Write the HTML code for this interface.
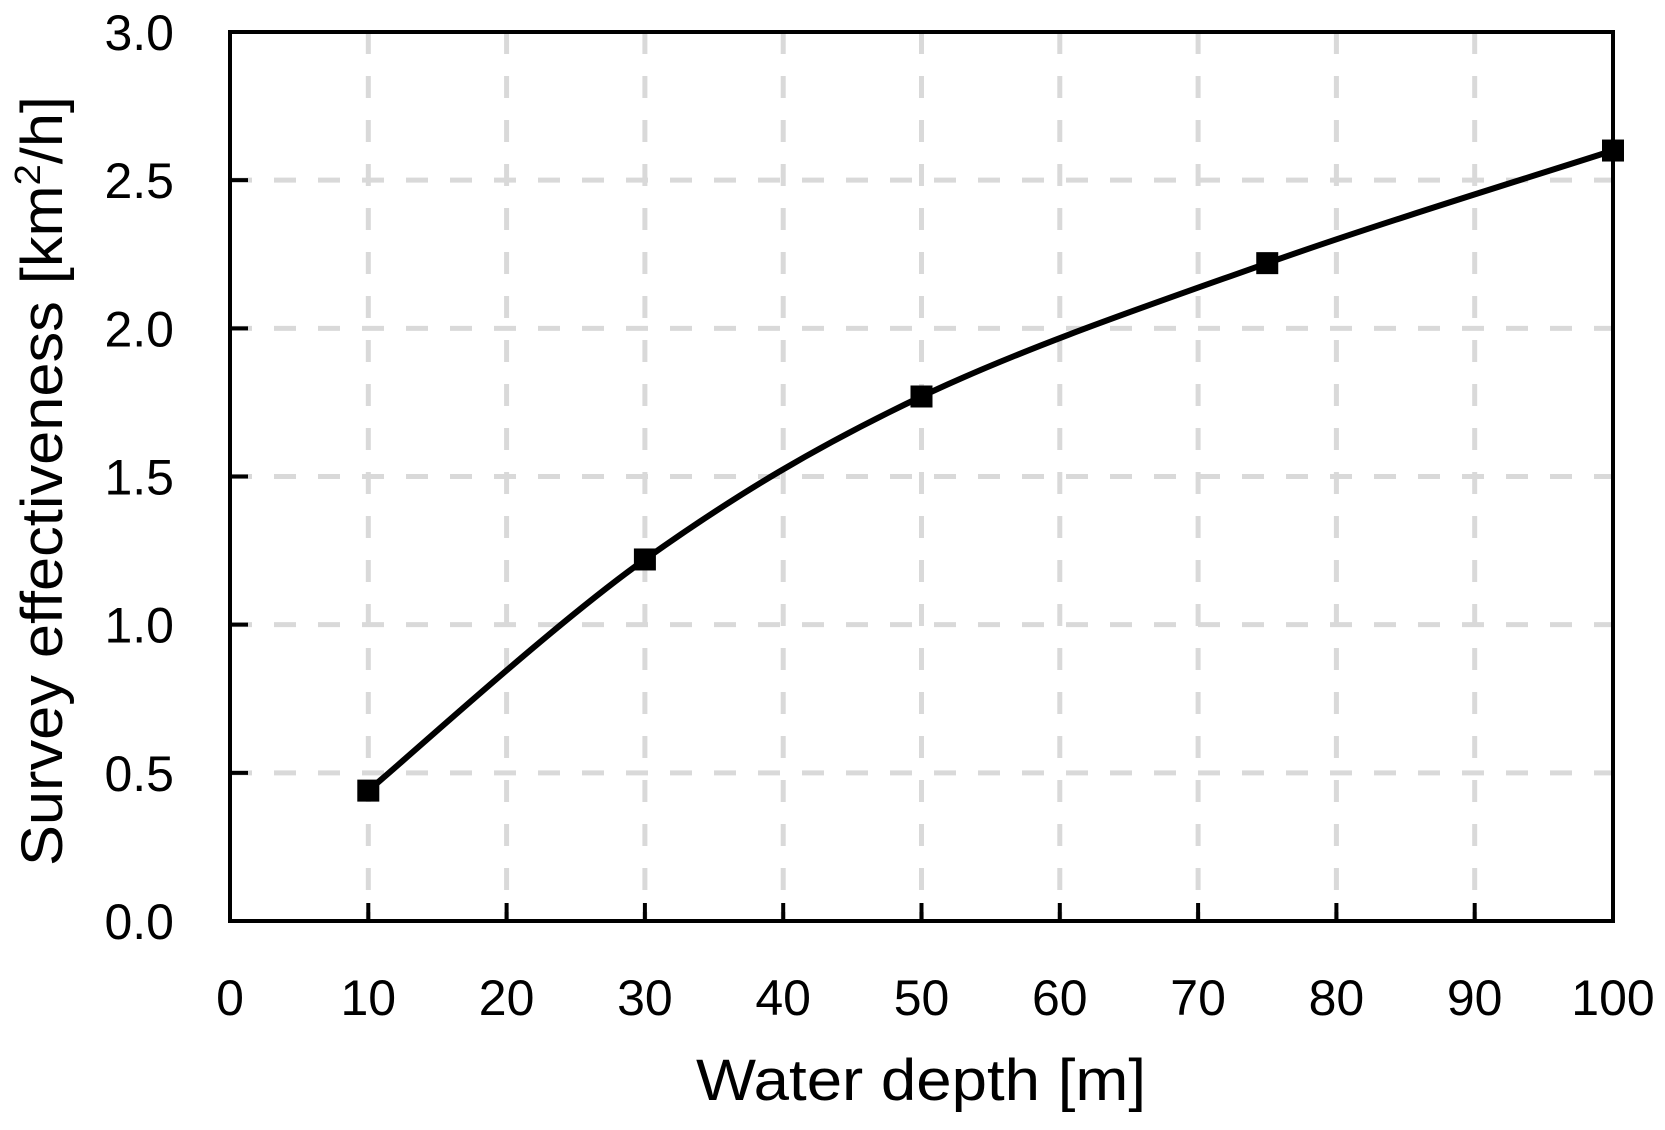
<!DOCTYPE html>
<html><head><meta charset="utf-8"><style>
html,body{margin:0;padding:0;background:#fff}
svg text{font-family:"Liberation Sans",sans-serif;fill:#000}
</style></head><body>
<svg id="chart" width="1665" height="1125" xmlns="http://www.w3.org/2000/svg">
<g id="grid"></g>
<g id="axes"></g>
<g id="series"></g>
<text x="921" y="1100" font-size="58" text-anchor="middle" textLength="450" lengthAdjust="spacingAndGlyphs">Water depth [m]</text>
<text transform="translate(62,481) rotate(-90)" font-size="58" text-anchor="middle" textLength="770" lengthAdjust="spacingAndGlyphs">Survey effectiveness [km<tspan font-size="36" dy="-22">2</tspan><tspan dy="22">/h]</tspan></text>
</svg>
<script>
const xValues = [10, 30, 50, 75, 100];
const yValues = [0.44, 1.22, 1.77, 2.22, 2.6];
const xTicks = [0,10,20,30,40,50,60,70,80,90,100];
const yTicks = [0,0.5,1,1.5,2,2.5,3];
const yTickLabels = ["0.0","0.5","1.0","1.5","2.0","2.5","3.0"];

const L=230,R=1613,T=32,B=921;
const sx=v=>L+(v-0)/100*(R-L);
const sy=v=>B-(v-0)/3*(B-T);
const NS="http://www.w3.org/2000/svg";
function mk(tag,attrs,parent){const e=document.createElementNS(NS,tag);for(const k in attrs)e.setAttribute(k,attrs[k]);parent.appendChild(e);return e;}
const grid=document.getElementById('grid'),axes=document.getElementById('axes'),series=document.getElementById('series');
xTicks.forEach((t,i)=>{
  if(t>0&&t<100){const g=mk('line',{x1:sx(t),x2:sx(t),y1:T,y2:B,stroke:'#d9d9d9','stroke-width':5,'stroke-dasharray':'22,22'},grid);
  
  }
  const tk=mk('line',{x1:sx(t),x2:sx(t),y1:B,y2:B-18,stroke:'#000','stroke-width':4},axes);
  
  
  const tx=mk('text',{x:sx(t),y:1015,'font-size':50,'text-anchor':'middle'},axes);
  tx.textContent=t;
  
  
});
yTicks.forEach((t,i)=>{
  if(t>0&&t<3){const g=mk('line',{x1:L,x2:R,y1:sy(t),y2:sy(t),stroke:'#d9d9d9','stroke-width':5,'stroke-dasharray':'22,22'},grid);
  
  }
  const tk=mk('line',{x1:L,x2:L+18,y1:sy(t),y2:sy(t),stroke:'#000','stroke-width':4},axes);
  
  
  const tx=mk('text',{x:174,y:sy(t)+18,'font-size':50,'text-anchor':'end'},axes);
  tx.textContent=yTickLabels[i];
  
  
});
const frame=mk('rect',{x:L,y:T,width:R-L,height:B-T,fill:'none',stroke:'#000','stroke-width':4},axes);


const P=xValues.map((x,i)=>[sx(x),sy(yValues[i])]);
let d=`M${P[0][0]},${P[0][1]}`;
for(let i=0;i<P.length-1;i++){
  const p0=P[i-1]||P[i],p1=P[i],p2=P[i+1],p3=P[i+2]||P[i+1];
  const c1=[p1[0]+(p2[0]-p0[0])/6,p1[1]+(p2[1]-p0[1])/6];
  const c2=[p2[0]-(p3[0]-p1[0])/6,p2[1]-(p3[1]-p1[1])/6];
  d+=` C${c1[0]},${c1[1]} ${c2[0]},${c2[1]} ${p2[0]},${p2[1]}`;
}
const line=mk('path',{d:d,fill:'none',stroke:'#000','stroke-width':6},series);


P.forEach(p=>{
  const m=mk('rect',{x:p[0]-11,y:p[1]-11,width:22,height:22,fill:'#000'},series);
  
  
});
</script>
</body></html>
